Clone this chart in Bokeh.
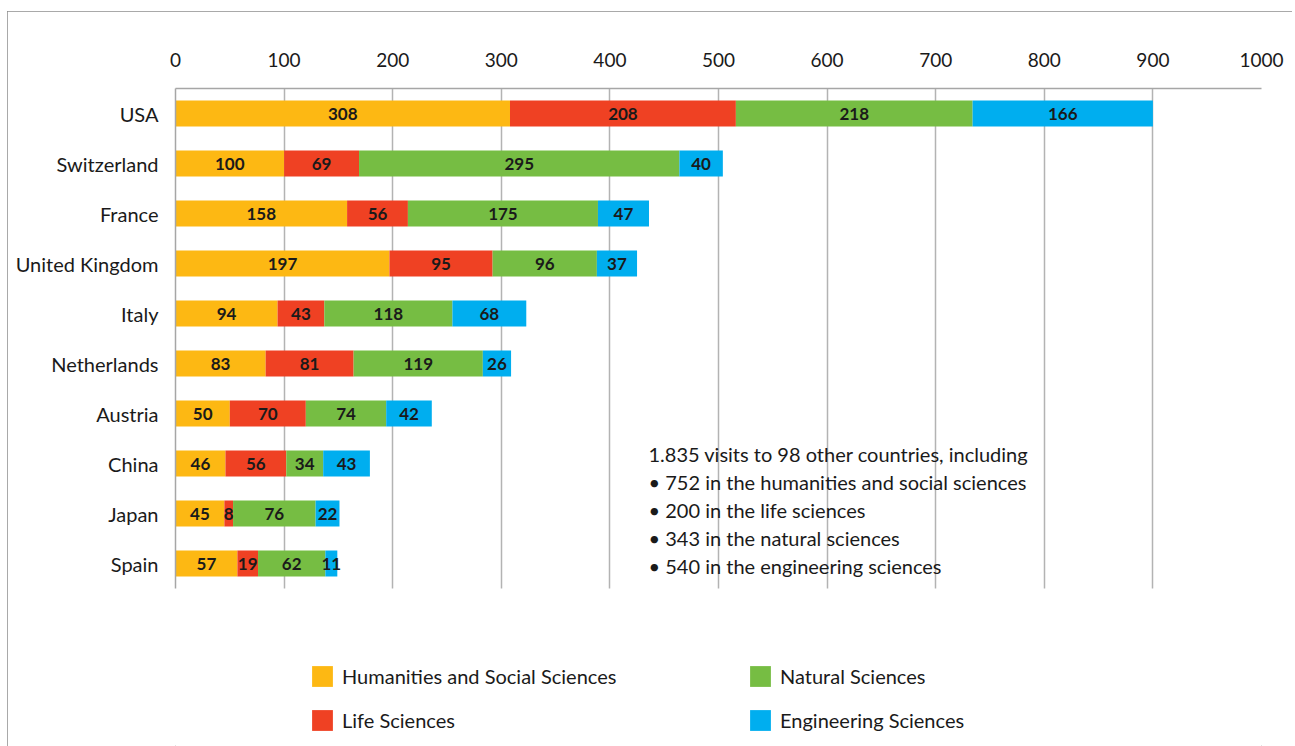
from bokeh.plotting import figure
from bokeh.models import (ColumnDataSource, Range1d, FixedTicker,
                          Legend, LegendItem, Label)
from bokeh.embed import file_html
from bokeh.resources import INLINE

# Research visits abroad by host country and field
countries = ["USA", "Switzerland", "France", "United Kingdom", "Italy",
             "Netherlands", "Austria", "China", "Japan", "Spain"]
humanities = [308, 100, 158, 197, 94, 83, 50, 46, 45, 57]
life = [208, 69, 56, 95, 43, 81, 70, 56, 8, 19]
natural = [218, 295, 175, 96, 118, 119, 74, 34, 76, 62]
engineering = [166, 40, 47, 37, 68, 26, 42, 43, 22, 11]

fields = ["Humanities and Social Sciences", "Life Sciences",
          "Natural Sciences", "Engineering Sciences"]
keys = ["hum", "life", "nat", "eng"]
colors = ["#FDB813", "#EF4123", "#76BD43", "#00AEEF"]
x_ticks = [0, 100, 200, 300, 400, 500, 600, 700, 800, 900, 1000]

note_lines = [
    "1.835 visits to 98 other countries, including",
    "\u2022 752 in the humanities and social sciences",
    "\u2022 200 in the life sciences",
    "\u2022 343 in the natural sciences",
    "\u2022 540 in the engineering sciences",
]

FONT = "Lato"
INK = "#1a1a1a"

# one row per country, first country on top
n = len(countries)
rows = [n - 1 - i for i in range(n)]

source = ColumnDataSource(dict(row=rows, hum=humanities, life=life,
                               nat=natural, eng=engineering))

# the plot area reaches down to the canvas bottom so the legend has room;
# grid and axis lines are bounded to the rows of bars
p = figure(width=1285, height=735, output_backend="svg", toolbar_location=None,
           x_range=Range1d(0, 1000), y_range=Range1d(-3.66, n - 0.5),
           x_axis_location="above",
           min_border_left=168, min_border_right=31,
           min_border_top=77, min_border_bottom=0,
           margin=(11, 0, 0, 7),
           styles={"outline": "1.5px solid #8c8c8c", "outline-offset": "-1px"})
p.outline_line_color = None
p.background_fill_color = "white"
p.border_fill_color = "white"

renderers = p.hbar_stack(keys, y="row", height=0.52, color=colors,
                         line_color=None, source=source)

# value labels centred in each segment
lab_x, lab_y, lab_t = [], [], []
for i in range(n):
    start = 0
    for series in (humanities, life, natural, engineering):
        v = series[i]
        lab_x.append(start + v / 2)
        lab_y.append(rows[i])
        lab_t.append(str(v))
        start += v
p.text(x="x", y="y", text="t",
       source=ColumnDataSource(dict(x=lab_x, y=lab_y, t=lab_t)),
       text_align="center", text_baseline="middle",
       text_font_size="17px", text_font_style="bold", text_color=INK,
       text_font={"value": FONT})

# axes
xa = p.xaxis[0]
xa.ticker = FixedTicker(ticks=x_ticks)
xa.axis_line_color = "#a6a6a6"
xa.axis_line_width = 1.5
xa.major_tick_line_color = None
xa.minor_tick_line_color = None
xa.major_label_standoff = 16
xa.major_label_text_font = FONT
xa.major_label_text_font_size = "19px"
xa.major_label_text_color = INK

ya = p.yaxis[0]
ya.ticker = FixedTicker(ticks=rows)
ya.major_label_overrides = {r: c for r, c in zip(rows, countries)}
ya.bounds = (-0.5, n - 0.5)
ya.axis_line_color = "#a6a6a6"
ya.axis_line_width = 1.5
ya.major_tick_line_color = None
ya.minor_tick_line_color = None
ya.major_label_standoff = 11
ya.major_label_text_font = FONT
ya.major_label_text_font_size = "20px"
ya.major_label_text_color = INK

p.ygrid.grid_line_color = None
p.xgrid.grid_line_color = "#b3b3b3"
p.xgrid.grid_line_width = 1.5
p.xgrid.ticker = FixedTicker(ticks=x_ticks)
p.xgrid.cross_bounds = (-0.5, n - 0.5)

# summary note
for k, line in enumerate(note_lines):
    p.add_layout(Label(x=473, y=293 - 28 * k, x_units="screen", y_units="screen",
                       text=line, text_font=FONT, text_font_size="20px",
                       text_color=INK, text_baseline="middle"))

# legend below the bars, two columns
legend = Legend(items=[LegendItem(label=f, renderers=[r])
                       for f, r in zip(fields, renderers)],
                location=(134, 13), orientation="vertical", nrows=2,
                glyph_width=26, glyph_height=26, label_height=26,
                label_width=387, spacing=18, label_standoff=7,
                padding=0, margin=0, border_line_color=None,
                background_fill_alpha=0,
                label_text_font=FONT, label_text_font_size="20px",
                label_text_color=INK)
p.add_layout(legend)

open("out.html", "w").write(file_html(p, INLINE))
